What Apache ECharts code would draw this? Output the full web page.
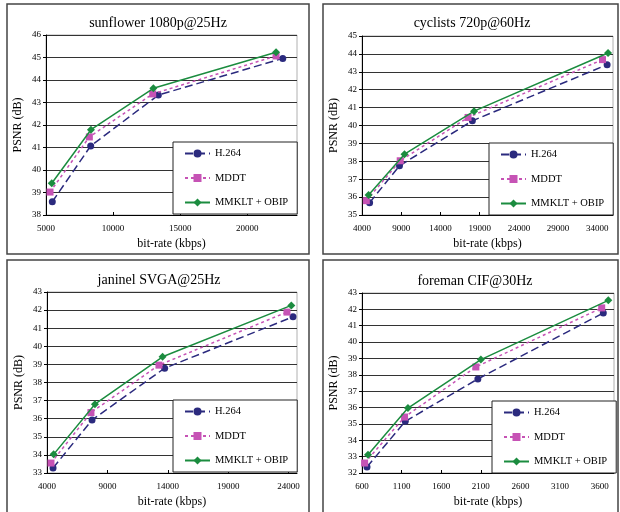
<!DOCTYPE html>
<html>
<head>
<meta charset="utf-8">
<script src="https://cdn.jsdelivr.net/npm/echarts@6/dist/echarts.min.js"></script>
<style>
  html, body { margin: 0; padding: 0; background: #fff; }
  #chart { width: 620px; height: 512px; }
</style>
</head>
<body>
<div id="chart"></div>
<script>
// panel titles
const titles = ['sunflower 1080p@25Hz', 'cyclists 720p@60Hz', 'janinel SVGA@25Hz', 'foreman CIF@30Hz']
const seriesNames = ['H.264', 'MDDT', 'MMKLT + OBIP']

// [bit-rate kbps, PSNR dB]
const sunflowerH264 = [[5470, 38.59], [8330, 41.07], [13370, 43.33], [22640, 44.96]]
const sunflowerMddt = [[5300, 39.02], [8230, 41.47], [12950, 43.38], [22140, 45.07]]
const sunflowerMmklt = [[5430, 39.41], [8350, 41.79], [13000, 43.63], [22140, 45.23]]

const cyclistsH264 = [[4970, 35.69], [8780, 37.75], [18070, 40.26], [35250, 43.40]]
const cyclistsMddt = [[4550, 35.80], [8870, 38.03], [17520, 40.45], [34660, 43.68]]
const cyclistsMmklt = [[4840, 36.12], [9420, 38.40], [18290, 40.80], [35370, 44.05]]

const janinelH264 = [[4500, 33.28], [7730, 35.93], [13740, 38.79], [24370, 41.63]]
const janinelMddt = [[4330, 33.55], [7640, 36.34], [13270, 38.96], [23870, 41.89]]
const janinelMmklt = [[4550, 34.03], [7970, 36.80], [13570, 39.42], [24230, 42.26]]

const foremanH264 = [[663, 32.37], [1146, 35.16], [2062, 37.75], [3645, 41.78]]
const foremanMddt = [[633, 32.61], [1137, 35.42], [2037, 38.48], [3625, 42.09]]
const foremanMmklt = [[676, 33.12], [1180, 35.97], [2100, 38.93], [3708, 42.55]]

// axis ranges per panel
const xRanges = [[5000, 23700, 5000], [4000, 36000, 5000], [4000, 24700, 5000], [600, 3780, 500]]
const yRanges = [[38, 46], [35, 45], [33, 43], [32, 43]]

const panelData = [
  [sunflowerH264, sunflowerMddt, sunflowerMmklt],
  [cyclistsH264, cyclistsMddt, cyclistsMmklt],
  [janinelH264, janinelMddt, janinelMmklt],
  [foremanH264, foremanMddt, foremanMmklt],
]

const FONT = '"Liberation Serif", "Times New Roman", serif'

// layout
const panels = [
  { box: [7, 4, 302, 250], grid: [46, 35, 251, 180], title: [158, 23], legend: [173, 142] },
  { box: [323, 4, 295, 250], grid: [362, 36, 251, 179], title: [472, 23], legend: [489, 143] },
  { box: [7, 260, 302, 262], grid: [47, 292, 250, 181], title: [159, 280], legend: [173, 400] },
  { box: [323, 260, 295, 262], grid: [362, 293, 252, 180], title: [475, 281], legend: [492, 401] },
]

const styles = [
  { color: '#2b2a7e', symbol: 'circle', size: 7, dash: [8, 4] },
  { color: '#c653b5', symbol: 'rect', size: 7, dash: [3, 3] },
  { color: '#1b8c3f', symbol: 'diamond', size: 8, dash: 'solid' },
]

const chart = echarts.init(document.getElementById('chart'), null, { renderer: 'canvas' })

const grid = panels.map(p => ({
  left: p.grid[0], top: p.grid[1], width: p.grid[2], height: p.grid[3],
  show: true, borderColor: '#b0b0b0', borderWidth: 1, backgroundColor: '#fff',
}))

const xAxis = panels.map((p, i) => ({
  type: 'value', gridIndex: i,
  min: xRanges[i][0], max: xRanges[i][1], interval: xRanges[i][2],
  name: 'bit-rate (kbps)', nameLocation: 'middle', nameGap: 23,
  nameTextStyle: { fontFamily: FONT, fontSize: 12, color: '#000' },
  axisLine: { lineStyle: { color: '#000', width: 1 } },
  axisTick: { inside: true, length: 3, lineStyle: { color: '#000' } },
  axisLabel: {
    fontFamily: FONT, fontSize: 9, color: '#000', margin: 9, showMaxLabel: false,
    formatter: v => String(v),
  },
  splitLine: { show: false },
}))

const yAxis = panels.map((p, i) => ({
  type: 'value', gridIndex: i,
  min: yRanges[i][0], max: yRanges[i][1], interval: 1,
  name: 'PSNR (dB)', nameLocation: 'middle', nameGap: 22,
  nameTextStyle: { fontFamily: FONT, fontSize: 12, color: '#000' },
  axisLine: { show: true, lineStyle: { color: '#000', width: 1 } },
  axisTick: { show: true, length: 3, lineStyle: { color: '#000' } },
  axisLabel: { fontFamily: FONT, fontSize: 9, color: '#000', margin: 5 },
  splitLine: { show: true, lineStyle: { color: '#333', width: 1 } },
}))

const series = []
panelData.forEach((sets, i) => {
  sets.forEach((data, k) => {
    const s = styles[k]
    series.push({
      type: 'line', name: seriesNames[k], xAxisIndex: i, yAxisIndex: i,
      data: data, symbol: s.symbol, symbolSize: s.size, showSymbol: true,
      itemStyle: { color: s.color },
      lineStyle: { color: s.color, width: 1.5, type: s.dash },
      animation: false, z: 3 + k,
    })
  })
})

const legend = panels.map(p => ({
  data: seriesNames, orient: 'vertical',
  left: p.legend[0], top: p.legend[1],
  itemWidth: 25, itemHeight: 10, itemGap: 13.5,
  padding: [6, 9, 6, 11],
  backgroundColor: '#fff', borderColor: '#222', borderWidth: 1,
  textStyle: { fontFamily: FONT, fontSize: 10.5, color: '#000' },
  selectedMode: false, z: 10,
}))

const graphic = []
panels.forEach((p, i) => {
  graphic.push({
    type: 'rect', z: -10, silent: true,
    shape: { x: p.box[0], y: p.box[1], width: p.box[2], height: p.box[3] },
    style: { fill: '#fff', stroke: '#444', lineWidth: 1.5 },
  })
  graphic.push({
    type: 'text', silent: true, z: 10,
    x: p.title[0], y: p.title[1],
    style: { text: titles[i], font: '14px ' + FONT, fill: '#000', align: 'center', verticalAlign: 'middle' },
  })
})

chart.setOption({
  backgroundColor: '#fff',
  animation: false,
  grid, xAxis, yAxis, series, legend, graphic,
})
</script>
</body>
</html>
